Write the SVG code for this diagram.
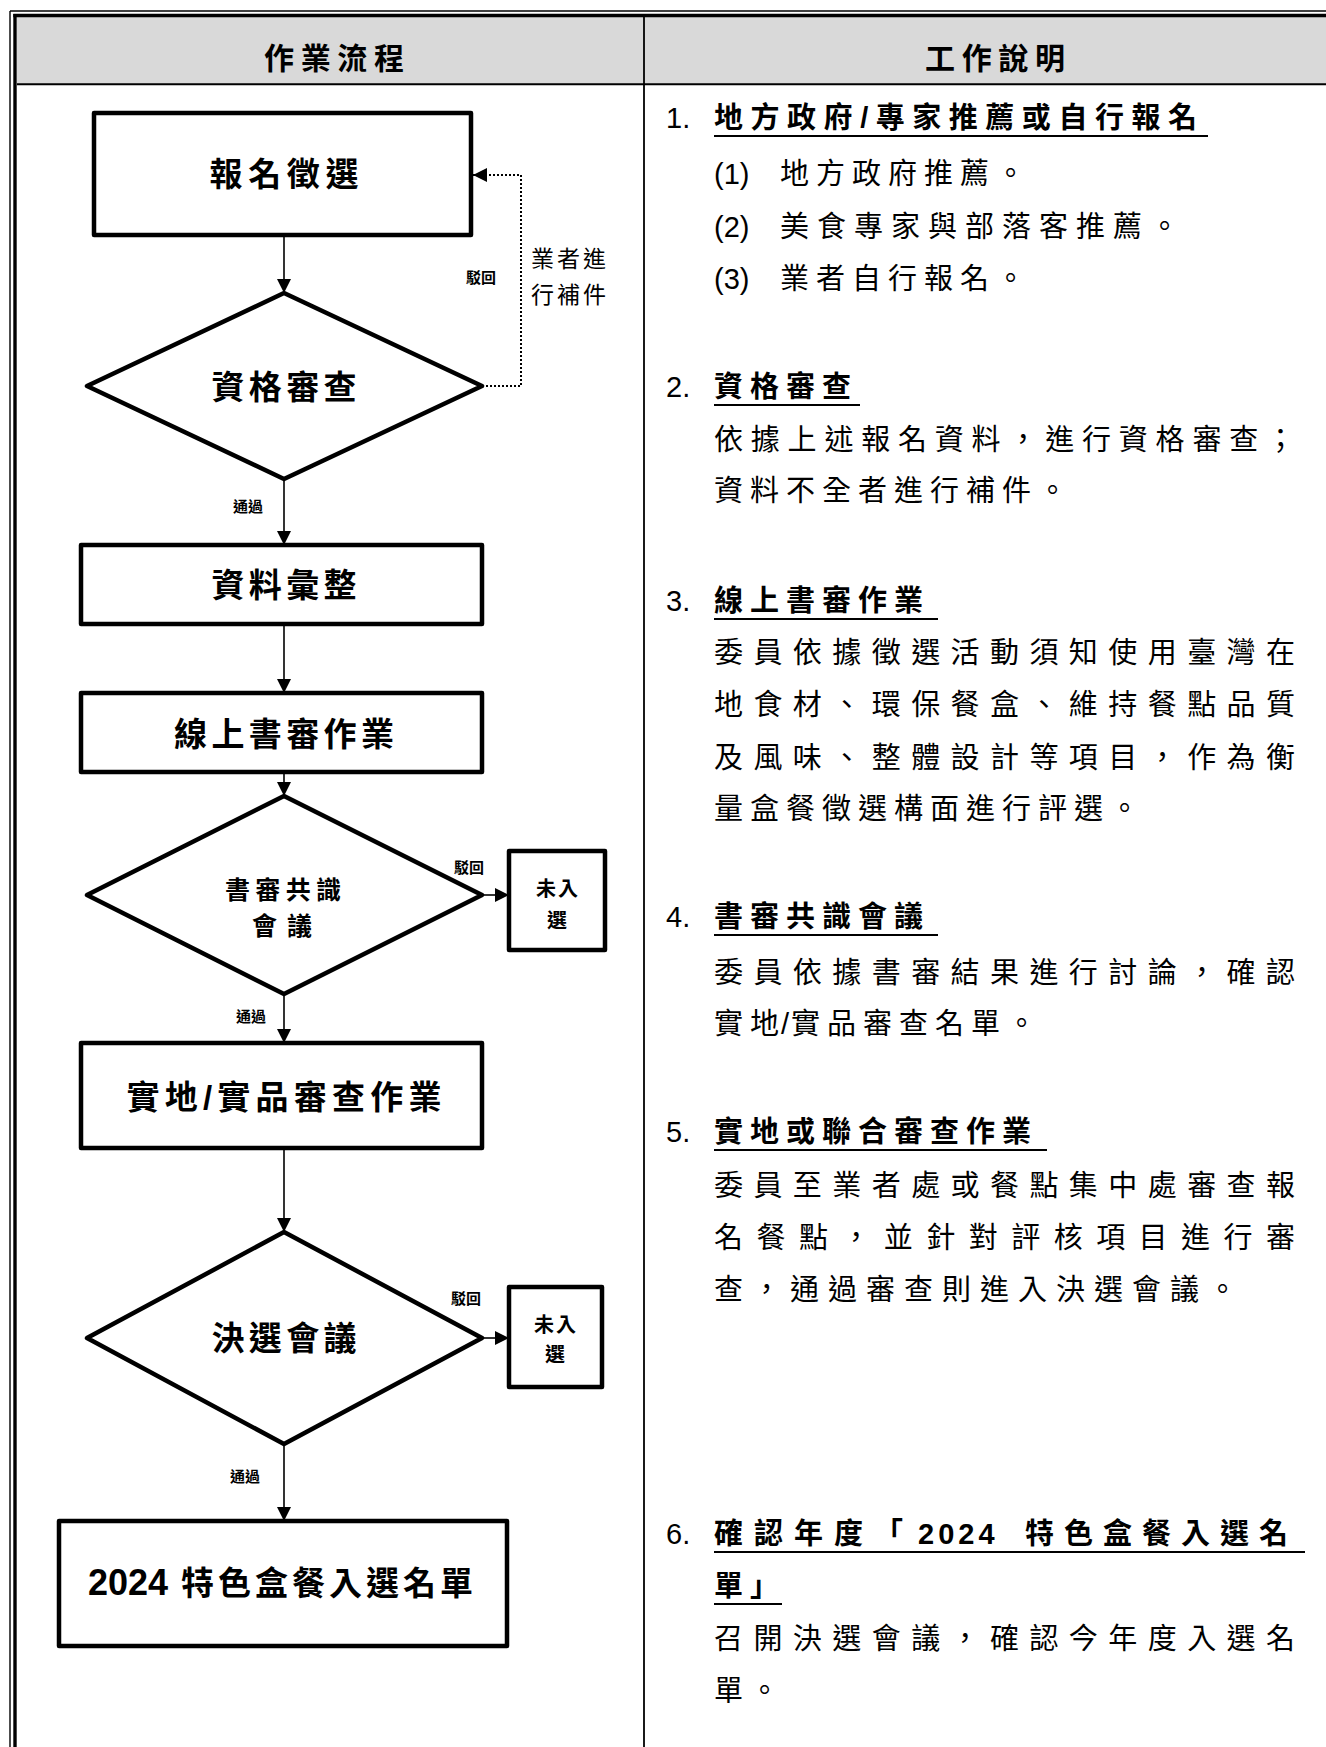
<svg xmlns="http://www.w3.org/2000/svg" width="1326" height="1747" viewBox="0 0 1326 1747">
<style>
text{font-family:'Liberation Sans','Noto Sans CJK TC',sans-serif;fill:#000}
.node{fill:#fff;stroke:#000;stroke-width:4.5;stroke-linejoin:round}
.lbl{font-weight:bold;text-anchor:middle}
.big{font-size:33px}
.mid{font-size:25px}
.sm{font-size:20px}
.tiny{font-size:15px;font-weight:bold;text-anchor:middle}
.conn{stroke:#000;stroke-width:1.6;fill:none}
.dot{stroke:#000;stroke-width:2;fill:none;stroke-dasharray:2 2}
.hd{font-size:30px;font-weight:bold;text-anchor:middle}
.body{font-size:29px;letter-spacing:7px}
.head{font-size:29px;font-weight:bold;letter-spacing:7px}
.num{font-size:29px}
.ul{stroke:#000;stroke-width:2}
</style>
<defs>
<marker id="arr" markerUnits="userSpaceOnUse" markerWidth="14" markerHeight="14" refX="14" refY="7" orient="auto">
<path d="M0,0 L14,7 L0,14 Z" fill="#000"/>
</marker>
</defs>
<rect width="1326" height="1747" fill="#fff"/>
<g id="frame">
<rect x="17" y="17" width="1320" height="67" fill="#d9d9d9"/>
<line x1="10" y1="11" x2="1326" y2="11" stroke="#000" stroke-width="1.4"/>
<line x1="10" y1="11" x2="10" y2="1747" stroke="#000" stroke-width="1.4"/>
<line x1="13.3" y1="15.5" x2="1326" y2="15.5" stroke="#000" stroke-width="3.4"/>
<line x1="15" y1="14" x2="15" y2="1747" stroke="#000" stroke-width="3.4"/>
<line x1="17" y1="84.3" x2="1326" y2="84.3" stroke="#000" stroke-width="2"/>
<line x1="644" y1="17" x2="644" y2="1747" stroke="#000" stroke-width="1.8"/>
<text class="hd" x="334" y="69" textLength="140" lengthAdjust="spacing">作業流程</text>
<text class="hd" x="995" y="69" textLength="140" lengthAdjust="spacing">工作說明</text>
</g>
<g id="connectors">
<line class="conn" x1="284" y1="237" x2="284" y2="293" marker-end="url(#arr)"/>
<polyline class="dot" points="482,386 521,386 521,175 473,175" marker-end="url(#arr)"/>
<line class="conn" x1="284" y1="481" x2="284" y2="545" marker-end="url(#arr)"/>
<line class="conn" x1="284" y1="626" x2="284" y2="693" marker-end="url(#arr)"/>
<line class="conn" x1="284" y1="774" x2="284" y2="796" marker-end="url(#arr)"/>
<line class="conn" x1="484" y1="895" x2="509" y2="895" marker-end="url(#arr)"/>
<line class="conn" x1="284" y1="996" x2="284" y2="1043" marker-end="url(#arr)"/>
<line class="conn" x1="284" y1="1150" x2="284" y2="1232" marker-end="url(#arr)"/>
<line class="conn" x1="484" y1="1338" x2="509" y2="1338" marker-end="url(#arr)"/>
<line class="conn" x1="284" y1="1446" x2="284" y2="1521" marker-end="url(#arr)"/>
<text class="tiny" x="481" y="283">駁回</text>
<text style="font-size:23px" x="531" y="267" textLength="75" lengthAdjust="spacing">業者進</text>
<text style="font-size:23px" x="531" y="303" textLength="75" lengthAdjust="spacing">行補件</text>
<text class="tiny" x="248" y="512">通過</text>
<text class="tiny" x="469" y="873">駁回</text>
<text class="tiny" x="251" y="1022">通過</text>
<text class="tiny" x="466" y="1304">駁回</text>
<text class="tiny" x="245" y="1482">通過</text>
</g>
<g id="n1">
<rect class="node" x="94" y="113" width="377" height="122"/>
<text class="lbl big" x="284" y="186" textLength="149" lengthAdjust="spacing">報名徵選</text>
</g>
<g id="n2">
<polygon class="node" points="284,293 482,386 284,479 87,386"/>
<text class="lbl big" x="284" y="399" textLength="145" lengthAdjust="spacing">資格審查</text>
</g>
<g id="n3">
<rect class="node" x="81" y="545" width="401" height="79"/>
<text class="lbl big" x="284" y="597" textLength="145" lengthAdjust="spacing">資料彙整</text>
</g>
<g id="n4">
<rect class="node" x="81" y="693" width="401" height="79"/>
<text class="lbl big" x="284" y="746" textLength="220" lengthAdjust="spacing">線上書審作業</text>
</g>
<g id="n5">
<polygon class="node" points="284,796 482,895 284,994 87,895"/>
<text class="lbl mid" x="283" y="899" textLength="116" lengthAdjust="spacing">書審共識</text>
<text class="lbl mid" x="282" y="935" textLength="60" lengthAdjust="spacing">會議</text>
</g>
<g id="n6">
<rect class="node" x="509" y="851" width="96" height="99"/>
<text class="lbl sm" x="557" y="896" textLength="42" lengthAdjust="spacing">未入</text>
<text class="lbl sm" x="557" y="928">選</text>
</g>
<g id="n7">
<rect class="node" x="81" y="1043" width="401" height="105"/>
<text class="lbl big" x="284" y="1109" textLength="315" lengthAdjust="spacing">實地/實品審查作業</text>
</g>
<g id="n8">
<polygon class="node" points="284,1232 482,1338 284,1444 87,1338"/>
<text class="lbl big" x="284" y="1350" textLength="145" lengthAdjust="spacing">決選會議</text>
</g>
<g id="n9">
<rect class="node" x="509" y="1287" width="93" height="100"/>
<text class="lbl sm" x="555" y="1332" textLength="42" lengthAdjust="spacing">未入</text>
<text class="lbl sm" x="555" y="1362">選</text>
</g>
<g id="n10">
<rect class="node" x="59" y="1521" width="448" height="125"/>
<text style="font-weight:bold" x="88" y="1595"><tspan style="font-size:36px">2024</tspan><tspan x="181" style="font-size:33px;letter-spacing:4px">特色盒餐入選名單</tspan></text>
</g>
<g id="desc">
<text class="num" x="666" y="128">1.</text>
<text class="head" x="714" y="128" textLength="490" lengthAdjust="spacing">地方政府/專家推薦或自行報名</text>
<line class="ul" x1="714" y1="136" x2="1208" y2="136"/>
<text class="num" x="714" y="184">(1)</text>
<text class="body" x="780" y="184">地方政府推薦。</text>
<text class="num" x="714" y="237">(2)</text>
<text class="body" x="780" y="237" style="letter-spacing:8px">美食專家與部落客推薦。</text>
<text class="num" x="714" y="289">(3)</text>
<text class="body" x="780" y="289">業者自行報名。</text>

<text class="num" x="666" y="397">2.</text>
<text class="head" x="714" y="397">資格審查</text>
<line class="ul" x1="714" y1="405" x2="860" y2="405"/>
<text class="body" x="714" y="450" textLength="588" lengthAdjust="spacing">依據上述報名資料，進行資格審查；</text>
<text class="body" x="714" y="501">資料不全者進行補件。</text>

<text class="num" x="666" y="611">3.</text>
<text class="head" x="714" y="611">線上書審作業</text>
<line class="ul" x1="714" y1="619" x2="938" y2="619"/>
<text class="body" x="714" y="663" textLength="588" lengthAdjust="spacing">委員依據徵選活動須知使用臺灣在</text>
<text class="body" x="714" y="715" textLength="588" lengthAdjust="spacing">地食材、環保餐盒、維持餐點品質</text>
<text class="body" x="714" y="768" textLength="588" lengthAdjust="spacing">及風味、整體設計等項目，作為衡</text>
<text class="body" x="714" y="819">量盒餐徵選構面進行評選。</text>

<text class="num" x="666" y="927">4.</text>
<text class="head" x="714" y="927">書審共識會議</text>
<line class="ul" x1="714" y1="935" x2="938" y2="935"/>
<text class="body" x="714" y="983" textLength="588" lengthAdjust="spacing">委員依據書審結果進行討論，確認</text>
<text class="body" x="714" y="1034">實地<tspan dx="-5" style="letter-spacing:2px">/</tspan>實品審查名單。</text>

<text class="num" x="666" y="1142">5.</text>
<text class="head" x="714" y="1142">實地或聯合審查作業</text>
<line class="ul" x1="714" y1="1150" x2="1047" y2="1150"/>
<text class="body" x="714" y="1196" textLength="588" lengthAdjust="spacing">委員至業者處或餐點集中處審查報</text>
<text class="body" x="714" y="1248" textLength="588" lengthAdjust="spacing">名餐點，並針對評核項目進行審</text>
<text class="body" x="714" y="1300" style="letter-spacing:9px">查，通過審查則進入決選會議。</text>

<text class="num" x="666" y="1544">6.</text>
<text class="head" x="714" y="1544"><tspan style="letter-spacing:11px">確認年度「</tspan><tspan x="918" style="letter-spacing:4px">2024</tspan><tspan x="1025" style="letter-spacing:10px">特色盒餐入選名</tspan></text>
<line class="ul" x1="714" y1="1552" x2="1305" y2="1552"/>
<text class="head" x="714" y="1596">單」</text>
<line class="ul" x1="714" y1="1604" x2="782" y2="1604"/>
<text class="body" x="714" y="1649" textLength="588" lengthAdjust="spacing">召開決選會議，確認今年度入選名</text>
<text class="body" x="714" y="1701">單。</text>
</g>
</svg>
